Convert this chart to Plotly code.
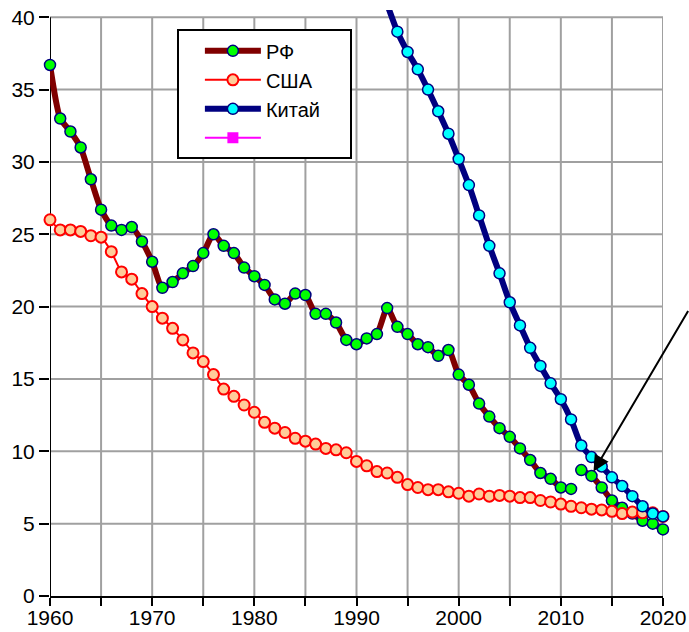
import plotly.graph_objects as go

# ---------------- data ----------------
rf_years = list(range(1960, 2012))
rf_values = [36.7, 33.0, 32.1, 31.0, 28.8, 26.7, 25.6, 25.3, 25.5, 24.5,
             23.1, 21.3, 21.7, 22.3, 22.8, 23.7, 25.0, 24.2, 23.7, 22.7,
             22.1, 21.5, 20.5, 20.2, 20.9, 20.8, 19.5, 19.5, 18.9, 17.7,
             17.4, 17.8, 18.1, 19.9, 18.6, 18.1, 17.4, 17.2, 16.6, 17.0,
             15.3, 14.6, 13.3, 12.4, 11.6, 11.0, 10.2, 9.4, 8.5, 8.1,
             7.5, 7.4]

rf2_years = list(range(2012, 2021))
rf2_values = [8.7, 8.3, 7.5, 6.6, 6.1, 5.7, 5.2, 5.0, 4.6]

us_years = list(range(1960, 2021))
us_values = [26.0, 25.3, 25.3, 25.2, 24.9, 24.8, 23.8, 22.4, 21.9, 20.9,
             20.0, 19.2, 18.5, 17.7, 16.8, 16.2, 15.3, 14.3, 13.8, 13.2,
             12.7, 12.0, 11.6, 11.3, 10.9, 10.7, 10.5, 10.2, 10.1, 9.9,
             9.3, 9.0, 8.6, 8.5, 8.2, 7.7, 7.5, 7.35, 7.35, 7.2,
             7.1, 6.9, 7.05, 6.9, 6.95, 6.9, 6.8, 6.8, 6.6, 6.5,
             6.35, 6.2, 6.1, 6.0, 5.95, 5.85, 5.7, 5.8, 5.75, 5.75,
             5.5]

cn_years = list(range(1993, 2021))
cn_values = [40.9, 39.0, 37.6, 36.4, 35.0, 33.5, 31.95, 30.2, 28.4, 26.3,
             24.2, 22.3, 20.3, 18.7, 17.15, 15.9, 14.7, 13.6, 12.2, 10.4,
             9.6, 8.95, 8.2, 7.6, 6.9, 6.2, 5.7, 5.5]

x_ticks = list(range(1960, 2021, 10))
y_ticks = list(range(0, 41, 5))
x_grid = list(range(1965, 2021, 5))
y_grid = list(range(5, 41, 5))

arrow_target = (2013.2, 8.6)

FONT = "Liberation Sans, Arial, sans-serif"
PAD = "\u00a0" * 9

fig = go.Figure()

fig.add_trace(go.Scatter(
    x=rf_years, y=rf_values, name="РФ" + PAD, mode="lines+markers",
    line=dict(color="#800000", width=6, shape="spline", smoothing=0.6),
    marker=dict(symbol="circle", size=11, color="#00FF00",
                line=dict(color="#000080", width=1.5)),
    cliponaxis=False,
))
fig.add_trace(go.Scatter(
    x=rf2_years, y=rf2_values, name="РФ", mode="lines+markers", showlegend=False,
    line=dict(color="#800000", width=6, shape="spline", smoothing=0.6),
    marker=dict(symbol="circle", size=11, color="#00FF00",
                line=dict(color="#000080", width=1.5)),
    cliponaxis=False,
))
fig.add_trace(go.Scatter(
    x=us_years, y=us_values, name="США", mode="lines+markers",
    line=dict(color="#FF0000", width=2, shape="spline", smoothing=0.6),
    marker=dict(symbol="circle", size=11, color="#FFCC99",
                line=dict(color="#FF0000", width=2)),
    cliponaxis=False,
))
fig.add_trace(go.Scatter(
    x=cn_years, y=cn_values, name="Китай", mode="lines+markers",
    line=dict(color="#000080", width=6, shape="spline", smoothing=0.6),
    marker=dict(symbol="circle", size=11, color="#00FFFF",
                line=dict(color="#000080", width=1.5)),
    cliponaxis=False,
))
fig.add_trace(go.Scatter(
    x=[None], y=[None], name=" ", mode="lines+markers",
    line=dict(color="#FF00FF", width=2),
    marker=dict(symbol="square", size=11, color="#FF00FF"),
))

shapes = []
for gx in x_grid:
    shapes.append(dict(type="line", xref="x", yref="y", x0=gx, x1=gx, y0=0, y1=40,
                       line=dict(color="#A0A0A0", width=2), layer="below"))
for gy in y_grid:
    shapes.append(dict(type="line", xref="x", yref="y", x0=1960, x1=2020, y0=gy, y1=gy,
                       line=dict(color="#A0A0A0", width=2), layer="below"))
shapes.append(dict(type="line", xref="x", yref="y", x0=1960, x1=1960, y0=0, y1=40,
                   line=dict(color="black", width=2), layer="below"))

fig.update_layout(
    width=689, height=632,
    margin=dict(l=50, r=26, t=10, b=36, autoexpand=False),
    paper_bgcolor="white", plot_bgcolor="white",
    font=dict(family=FONT, size=21, color="black"),
    shapes=shapes,
    showlegend=True,
    legend=dict(x=0.207, y=0.967, xanchor="left", yanchor="top",
                bgcolor="white", bordercolor="black", borderwidth=2,
                font=dict(family=FONT, size=20, color="black"),
                itemwidth=56, indentation=21),
    annotations=[dict(x=arrow_target[0], y=arrow_target[1], xref="x", yref="y",
                      ax=100, ay=-162, text="", showarrow=True,
                      arrowhead=2, arrowsize=1.6, arrowwidth=2, arrowcolor="black",
                      standoff=0)],
)
fig.update_xaxes(range=[1960, 2020], showgrid=False, zeroline=False, automargin=False,
                 showline=True, linecolor="black", linewidth=2,
                 tickvals=x_ticks, ticks="outside", ticklen=8, tickwidth=2,
                 tickcolor="black", ticklabelstandoff=-6,
                 minor=dict(dtick=5, tick0=1960, ticks="outside", ticklen=8,
                            tickwidth=2, tickcolor="black", showgrid=False),
                 tickfont=dict(family=FONT, size=21))
fig.update_yaxes(range=[0, 40.5], showgrid=False, zeroline=False, showline=False,
                 automargin=False,
                 tickvals=y_ticks, ticks="outside", ticklen=10, tickwidth=2,
                 tickcolor="black", tickfont=dict(family=FONT, size=21))

fig.write_html("out.html", config={"displayModeBar": False},
               post_script="document.body.style.margin='0';document.body.style.overflow='hidden';")
